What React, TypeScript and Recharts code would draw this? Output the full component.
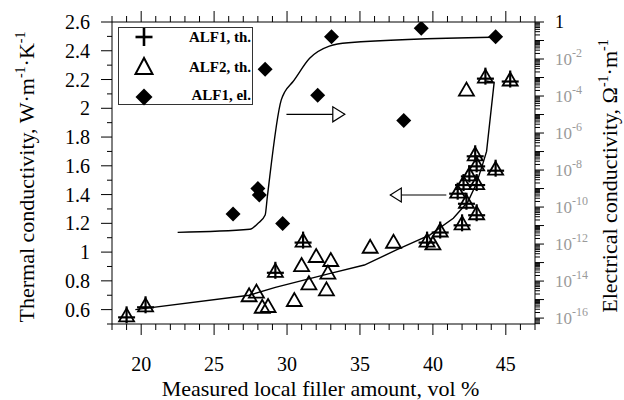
import React from 'react';
import { ComposedChart, Scatter, XAxis, YAxis, ReferenceLine, ReferenceDot, Legend } from 'recharts';

const SERIF = '"Liberation Serif", "Times New Roman", Times, serif';

// ALF1, thermal conductivity (vol %, W/(m·K))
const alf1ThX = [19.0, 20.3, 29.2, 31.1, 39.6, 40.5, 42.0, 43.0, 42.3, 41.7, 42.1, 43.0, 42.5, 43.0, 42.9, 44.3, 43.6, 45.3];
const alf1ThY = [0.56, 0.63, 0.87, 1.08, 1.08, 1.15, 1.2, 1.27, 1.35, 1.42, 1.48, 1.48, 1.54, 1.61, 1.68, 1.58, 2.22, 2.2];

// ALF2, thermal conductivity
const alf2ThX = [27.4, 27.9, 28.3, 28.7, 30.5, 31.0, 31.5, 32.0, 32.7, 32.8, 33.0, 35.7, 37.3, 40.0, 42.3];
const alf2ThY = [0.7, 0.725, 0.62, 0.625, 0.667, 0.91, 0.783, 0.973, 0.741, 0.857, 0.945, 1.037, 1.072, 1.06, 2.13];

// ALF1, electrical conductivity (S/m, right log axis)
const alf1ElX = [26.3, 28.0, 28.1, 28.5, 29.7, 32.1, 33.05, 38.0, 39.2, 44.3];
const alf1ElY = [4.2e-11, 1.0e-9, 4.5e-10, 2.8e-3, 1.3e-11, 1.1e-4, 0.16, 4.7e-6, 0.46, 0.16];

// fitted curves
const thFitX = [19.6, 27.4, 29.2, 32.9, 35.3, 37.5, 39.8, 41.4, 42.4, 43.0, 43.43, 43.68, 44.2, 43.65];
const thFitY = [0.6, 0.7, 0.755, 0.85, 0.91, 1.015, 1.12, 1.235, 1.35, 1.48, 1.617, 1.7, 2.18, 2.19];
const elFitX = [22.5, 27.45, 28.0, 28.5, 28.65, 29.6, 29.85, 30.4, 31.55, 32.9, 34.2, 44.0];
const elFitY = [4.3e-12, 6.3e-12, 1.3e-11, 3.7e-11, 3.6e-10, 6.0e-5, 1.7e-4, 5.9e-4, 1.1e-2, 5.0e-2, 7.6e-2, 0.15];

// arrows: [x, y] start and tip, in left-axis units
const arrowRight = [[29.96, 1.958], [33.96, 1.958]];
const arrowLeft = [[40.92, 1.397], [37.08, 1.397]];

const xTicks = Array.from({ length: 30 }, (_, i) => 18 + i);
const leftTicks = Array.from({ length: 22 }, (_, i) => Math.round((0.5 + i * 0.1) * 10) / 10);
const rightMin = Math.pow(10, -16.32);
const rightTicks: number[] = [];
for (let n = -17; n < 0; n++) {
  for (let k = 1; k <= 9; k++) {
    const v = Number(`${k}e${n}`);
    if (v >= rightMin) rightTicks.push(v);
  }
}
rightTicks.push(1);

const pts = (xs: number[], ys: number[]) => xs.map((x, i) => ({ x, y: ys[i] }));
const alf1Th = pts(alf1ThX, alf1ThY);
const alf2Th = pts(alf2ThX, alf2ThY);
const alf1El = pts(alf1ElX, alf1ElY);
const thFit = pts(thFitX, thFitY);
const elFit = pts(elFitX, elFitY);

const Cross = (p: any) => {
  const { cx, cy } = p;
  return (
    <g fill="none" stroke="#000">
      <polygon points={`${cx},${cy - 7} ${cx - 7.5},${cy + 6} ${cx + 7.5},${cy + 6}`} strokeWidth={1.8} />
      <line x1={cx} y1={cy - 9} x2={cx} y2={cy + 8} strokeWidth={2.2} />
      <line x1={cx - 8.5} y1={cy + 2} x2={cx + 8.5} y2={cy + 2} strokeWidth={2.2} />
    </g>
  );
};
const Tri = (p: any) => {
  const { cx, cy } = p;
  return <polygon points={`${cx},${cy - 7} ${cx - 7.5},${cy + 6} ${cx + 7.5},${cy + 6}`} fill="none" stroke="#000" strokeWidth={1.8} />;
};
const Diamond = (p: any) => {
  const { cx, cy } = p;
  return <polygon points={`${cx},${cy - 7.5} ${cx + 7.5},${cy} ${cx},${cy + 7.5} ${cx - 7.5},${cy}`} fill="#000" />;
};
const Nothing = () => <g />;

const headRight = (p: any) => <polygon points={`${p.cx},${p.cy} ${p.cx - 12},${p.cy - 7.5} ${p.cx - 12},${p.cy + 7.5}`} fill="#fff" stroke="#000" strokeWidth={1.2} />;
const headLeft = (p: any) => <polygon points={`${p.cx},${p.cy} ${p.cx + 11},${p.cy - 7} ${p.cx + 11},${p.cy + 7}`} fill="#fff" stroke="#000" strokeWidth={1.2} />;

const XTick = (p: any) => {
  const { x, y, payload, side } = p;
  const v = payload.value;
  const major = v % 5 === 0;
  const dir = side === 'top' ? -1 : 1;
  return (
    <g>
      <line x1={x} y1={y} x2={x} y2={y + dir * (major ? 11 : 6)} stroke="#000" />
      {side === 'bottom' && major && (
        <text x={x} y={y + 47} textAnchor="middle" fontSize={20} fontFamily={SERIF} fill="#000">{v}</text>
      )}
    </g>
  );
};

const LeftTick = (p: any) => {
  const { x, y, payload } = p;
  const v = payload.value;
  const major = Math.round(v * 10) % 2 === 0;
  return (
    <g>
      <line x1={x - (major ? 11 : 5)} y1={y} x2={x} y2={y} stroke="#000" />
      {major && (
        <text x={x - 22} y={y + 7} textAnchor="end" fontSize={20} fontFamily={SERIF} fill="#000">{String(v)}</text>
      )}
    </g>
  );
};

const RightTick = (p: any) => {
  const { x, y, payload } = p;
  const e = Math.log10(payload.value);
  const decade = Math.abs(e - Math.round(e)) < 1e-6;
  const n = Math.round(e);
  return (
    <g>
      <line x1={x} y1={y} x2={x + (decade ? 9 : 5)} y2={y} stroke="#000" />
      {decade && n === 0 && (
        <text x={x + 20} y={y + 6} fontSize={18} fontFamily={SERIF} fill="#000">1</text>
      )}
      {decade && n < 0 && n % 2 === 0 && (
        <text x={x + 20} y={y + 6} fontSize={17} fontFamily={SERIF} fill="#9a9a9a">
          10<tspan dy={-8} fontSize={12}>{`-${-n}`}</tspan>
        </text>
      )}
    </g>
  );
};

const LeftTitle = (p: any) => {
  const vb = p.viewBox;
  const cx = 34;
  const cy = vb.y + 155;
  return (
    <text x={cx} y={cy} transform={`rotate(-90, ${cx}, ${cy})`} textAnchor="middle" fontSize={22} fontFamily={SERIF} fill="#000">
      Thermal conductivity, W·m<tspan dy={-9} fontSize={14}>-1</tspan><tspan dy={9}>·K</tspan><tspan dy={-9} fontSize={14}>-1</tspan>
    </text>
  );
};

const RightTitle = (p: any) => {
  const vb = p.viewBox;
  const cx = 617;
  const cy = vb.y + 154;
  return (
    <text x={cx} y={cy} transform={`rotate(-90, ${cx}, ${cy})`} textAnchor="middle" fontSize={22} fontFamily={SERIF} fill="#000">
      Electrical conductivity, Ω<tspan dy={-9} fontSize={14}>-1</tspan><tspan dy={9}>·m</tspan><tspan dy={-9} fontSize={14}>-1</tspan>
    </text>
  );
};

const BottomTitle = (p: any) => {
  const vb = p.viewBox;
  return (
    <text x={vb.x + vb.width / 2 - 3} y={vb.y + 72} textAnchor="middle" fontSize={22} fontFamily={SERIF} fill="#000">
      Measured local filler amount, vol %
    </text>
  );
};

const LegendBox = () => (
  <svg width={135} height={79} style={{ display: 'block', overflow: 'visible' }}>
    <rect x={0.5} y={0.5} width={134} height={77} fill="#fff" stroke="#333" />
    <g stroke="#000" strokeWidth={2.6}>
      <line x1={26} y1={1} x2={26} y2={19} />
      <line x1={17.5} y1={10} x2={34.5} y2={10} />
    </g>
    <polygon points="26,31 17.5,47 34.5,47" fill="none" stroke="#000" strokeWidth={2} />
    <polygon points="26,61.5 34.5,70 26,78.5 17.5,70" fill="#000" />
    <g fontFamily={SERIF} fontWeight="bold" fontSize={15} textAnchor="end" fill="#000">
      <text x={133} y={14.5}>ALF1, th.</text>
      <text x={133} y={44.5}>ALF2, th.</text>
      <text x={133} y={73}>ALF1, el.</text>
    </g>
  </svg>
);

export default function App() {
  return (
    <div style={{ position: 'absolute', left: 0, top: 0, width: 624, height: 400, background: '#fff' }}>
      <ComposedChart width={624} height={400} margin={{ top: 21, right: 88, bottom: 75, left: 111 }}>
        <XAxis
          xAxisId="b" dataKey="x" type="number" domain={[18, 47]} allowDataOverflow ticks={xTicks} interval={0}
          height={1} tickSize={0} tickMargin={0} tickLine={false} axisLine={{ stroke: '#000' }}
          tick={(p: any) => <XTick {...p} side="bottom" />} label={(p: any) => <BottomTitle {...p} />}
        />
        <XAxis
          xAxisId="t" orientation="top" dataKey="x" type="number" domain={[18, 47]} allowDataOverflow ticks={xTicks} interval={0}
          height={1} tickSize={0} tickMargin={0} tickLine={false} axisLine={{ stroke: '#000' }}
          tick={(p: any) => <XTick {...p} side="top" />}
        />
        <YAxis
          yAxisId="l" dataKey="y" type="number" domain={[0.5, 2.6]} allowDataOverflow ticks={leftTicks} interval={0}
          width={1} tickSize={0} tickMargin={0} tickLine={false} axisLine={{ stroke: '#000' }}
          tick={(p: any) => <LeftTick {...p} />} label={(p: any) => <LeftTitle {...p} />}
        />
        <YAxis
          yAxisId="r" orientation="right" dataKey="y" type="number" scale="log" domain={[rightMin, 1]} allowDataOverflow
          ticks={rightTicks} interval={0}
          width={1} tickSize={0} tickMargin={0} tickLine={false} axisLine={{ stroke: '#000' }}
          tick={(p: any) => <RightTick {...p} />} label={(p: any) => <RightTitle {...p} />}
        />
        <Legend layout="horizontal" verticalAlign="middle" align="center" content={() => <LegendBox />}
          wrapperStyle={{ left: 118, top: 27, width: 135, height: 79 }} />

        <Scatter name="thermal fit" data={thFit} xAxisId="b" yAxisId="l" shape={Nothing} legendType="none"
          line={{ stroke: '#000', strokeWidth: 1.4 }} lineJointType="linear" isAnimationActive={false} />
        <Scatter name="electrical fit" data={elFit} xAxisId="b" yAxisId="r" shape={Nothing} legendType="none"
          line={{ stroke: '#000', strokeWidth: 1.4 }} lineJointType="monotoneX" isAnimationActive={false} />

        <ReferenceLine xAxisId="b" yAxisId="l" segment={[{ x: arrowRight[0][0], y: arrowRight[0][1] }, { x: arrowRight[1][0], y: arrowRight[1][1] }]} stroke="#000" strokeWidth={1.2} />
        <ReferenceDot xAxisId="b" yAxisId="l" x={arrowRight[1][0]} y={arrowRight[1][1]} shape={headRight} />
        <ReferenceLine xAxisId="b" yAxisId="l" segment={[{ x: arrowLeft[0][0], y: arrowLeft[0][1] }, { x: arrowLeft[1][0], y: arrowLeft[1][1] }]} stroke="#000" strokeWidth={1.2} />
        <ReferenceDot xAxisId="b" yAxisId="l" x={arrowLeft[1][0]} y={arrowLeft[1][1]} shape={headLeft} />

        <Scatter name="ALF2, th." data={alf2Th} xAxisId="b" yAxisId="l" shape={Tri} isAnimationActive={false} />
        <Scatter name="ALF1, th." data={alf1Th} xAxisId="b" yAxisId="l" shape={Cross} isAnimationActive={false} />
        <Scatter name="ALF1, el." data={alf1El} xAxisId="b" yAxisId="r" shape={Diamond} isAnimationActive={false} />
      </ComposedChart>
    </div>
  );
}
